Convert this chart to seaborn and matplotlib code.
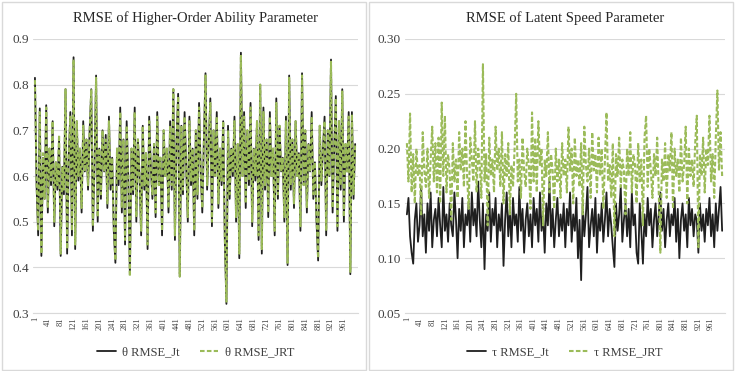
import numpy as np
import pandas as pd
import matplotlib
matplotlib.use("Agg")
import matplotlib.pyplot as plt
from matplotlib.patches import Rectangle
import seaborn as sns

# RMSE per replication (read every 5th replication off the figure)
theta_jt = [
    0.815, 0.58, 0.47, 0.748, 0.425, 0.64, 0.55, 0.755, 0.52, 0.66, 0.58, 0.72, 0.49, 0.63, 0.57, 0.68, 0.425, 0.62, 0.56, 0.79,
    0.43, 0.64, 0.74, 0.47, 0.86, 0.44, 0.72, 0.59, 0.66, 0.52, 0.72, 0.61, 0.68, 0.57, 0.70, 0.79, 0.48, 0.62, 0.82, 0.50,
    0.66, 0.55, 0.70, 0.61, 0.69, 0.53, 0.73, 0.57, 0.64, 0.48, 0.41, 0.66, 0.58, 0.75, 0.52, 0.68, 0.45, 0.72, 0.60, 0.385,
    0.66, 0.56, 0.75, 0.50, 0.68, 0.60, 0.47, 0.71, 0.57, 0.65, 0.44, 0.73, 0.62, 0.55, 0.67, 0.51, 0.74, 0.58, 0.64, 0.47,
    0.70, 0.60, 0.66, 0.52, 0.72, 0.57, 0.79, 0.46, 0.68, 0.78, 0.38, 0.71, 0.56, 0.74, 0.62, 0.50, 0.73, 0.58, 0.66, 0.47,
    0.70, 0.55, 0.76, 0.61, 0.52, 0.68, 0.825, 0.57, 0.67, 0.77, 0.49, 0.70, 0.60, 0.74, 0.53, 0.66, 0.58, 0.72, 0.46, 0.32,
    0.71, 0.55, 0.66, 0.60, 0.73, 0.50, 0.67, 0.42, 0.87, 0.60, 0.74, 0.53, 0.70, 0.58, 0.76, 0.49, 0.66, 0.59, 0.72, 0.46,
    0.80, 0.43, 0.75, 0.57, 0.68, 0.51, 0.74, 0.60, 0.66, 0.47, 0.77, 0.55, 0.71, 0.61, 0.64, 0.50, 0.73, 0.405, 0.82, 0.57,
    0.68, 0.53, 0.72, 0.60, 0.65, 0.48, 0.825, 0.58, 0.70, 0.52, 0.67, 0.61, 0.74, 0.55, 0.63, 0.50, 0.415, 0.71, 0.58, 0.66,
    0.73, 0.47, 0.70, 0.60, 0.855, 0.52, 0.66, 0.775, 0.48, 0.72, 0.57, 0.79, 0.50, 0.67, 0.61, 0.74, 0.385, 0.74, 0.55, 0.67,
]
theta_jrt = [
    0.81, 0.59, 0.48, 0.74, 0.43, 0.65, 0.55, 0.75, 0.53, 0.66, 0.59, 0.72, 0.50, 0.63, 0.58, 0.69, 0.43, 0.62, 0.57, 0.79,
    0.44, 0.64, 0.73, 0.48, 0.855, 0.45, 0.72, 0.60, 0.66, 0.53, 0.71, 0.61, 0.68, 0.58, 0.70, 0.79, 0.49, 0.62, 0.815, 0.51,
    0.66, 0.56, 0.70, 0.61, 0.68, 0.54, 0.72, 0.58, 0.64, 0.49, 0.415, 0.66, 0.59, 0.74, 0.53, 0.68, 0.46, 0.71, 0.60, 0.38,
    0.66, 0.57, 0.74, 0.51, 0.68, 0.60, 0.48, 0.71, 0.58, 0.65, 0.45, 0.72, 0.62, 0.56, 0.67, 0.52, 0.73, 0.58, 0.64, 0.48,
    0.70, 0.60, 0.66, 0.53, 0.71, 0.58, 0.79, 0.47, 0.68, 0.775, 0.38, 0.71, 0.57, 0.73, 0.62, 0.51, 0.72, 0.59, 0.66, 0.48,
    0.70, 0.56, 0.75, 0.61, 0.53, 0.68, 0.82, 0.58, 0.67, 0.76, 0.50, 0.70, 0.60, 0.73, 0.54, 0.66, 0.59, 0.72, 0.47, 0.325,
    0.70, 0.56, 0.66, 0.61, 0.72, 0.51, 0.67, 0.43, 0.865, 0.60, 0.73, 0.54, 0.70, 0.59, 0.75, 0.50, 0.66, 0.60, 0.72, 0.47,
    0.80, 0.44, 0.74, 0.58, 0.68, 0.52, 0.73, 0.60, 0.66, 0.48, 0.76, 0.56, 0.71, 0.61, 0.64, 0.51, 0.72, 0.41, 0.815, 0.58,
    0.68, 0.54, 0.72, 0.60, 0.65, 0.49, 0.82, 0.58, 0.70, 0.53, 0.67, 0.61, 0.73, 0.56, 0.63, 0.51, 0.42, 0.71, 0.59, 0.66,
    0.72, 0.48, 0.70, 0.60, 0.85, 0.53, 0.66, 0.77, 0.49, 0.72, 0.58, 0.785, 0.51, 0.67, 0.61, 0.73, 0.39, 0.735, 0.56, 0.67,
]
tau_jt = [
    0.14, 0.155, 0.12, 0.105, 0.095, 0.135, 0.15, 0.115, 0.13, 0.165, 0.12, 0.14, 0.105, 0.15, 0.125, 0.16, 0.11, 0.135, 0.145, 0.12,
    0.155, 0.13, 0.11, 0.165, 0.125, 0.14, 0.115, 0.15, 0.13, 0.12, 0.16, 0.135, 0.10, 0.145, 0.125, 0.155, 0.11, 0.14, 0.13, 0.15,
    0.115, 0.16, 0.13, 0.145, 0.12, 0.17, 0.135, 0.11, 0.15, 0.09, 0.14, 0.125, 0.16, 0.115, 0.145, 0.13, 0.155, 0.11, 0.14, 0.125,
    0.15, 0.093, 0.135, 0.16, 0.12, 0.145, 0.11, 0.155, 0.13, 0.14, 0.115, 0.165, 0.125, 0.145, 0.105, 0.135, 0.15, 0.12, 0.14, 0.11,
    0.155, 0.13, 0.145, 0.115, 0.16, 0.125, 0.14, 0.105, 0.15, 0.13, 0.17, 0.12, 0.145, 0.11, 0.135, 0.155, 0.12, 0.14, 0.125, 0.15,
    0.11, 0.145, 0.13, 0.16, 0.115, 0.14, 0.125, 0.155, 0.10, 0.135, 0.08, 0.15, 0.12, 0.14, 0.165, 0.11, 0.13, 0.145, 0.12, 0.155,
    0.105, 0.14, 0.125, 0.15, 0.115, 0.135, 0.16, 0.12, 0.145, 0.13, 0.11, 0.092, 0.15, 0.125, 0.14, 0.165, 0.115, 0.135, 0.15, 0.12,
    0.145, 0.11, 0.16, 0.13, 0.14, 0.105, 0.095, 0.15, 0.125, 0.095, 0.14, 0.12, 0.155, 0.13, 0.145, 0.11, 0.135, 0.15, 0.12, 0.14,
    0.16, 0.125, 0.145, 0.11, 0.135, 0.15, 0.12, 0.14, 0.13, 0.155, 0.115, 0.145, 0.10, 0.135, 0.15, 0.125, 0.14, 0.11, 0.155, 0.13,
    0.145, 0.12, 0.14, 0.135, 0.105, 0.15, 0.125, 0.14, 0.115, 0.145, 0.13, 0.155, 0.12, 0.14, 0.11, 0.15, 0.125, 0.145, 0.165, 0.125,
]
tau_jrt = [
    0.205, 0.17, 0.232, 0.16, 0.195, 0.15, 0.2, 0.175, 0.185, 0.14, 0.215, 0.18, 0.165, 0.2, 0.155, 0.19, 0.22, 0.17, 0.205, 0.16,
    0.21, 0.15, 0.242, 0.175, 0.23, 0.16, 0.195, 0.18, 0.135, 0.205, 0.17, 0.19, 0.155, 0.215, 0.18, 0.2, 0.165, 0.225, 0.175, 0.145,
    0.21, 0.19, 0.17, 0.225, 0.16, 0.2, 0.185, 0.155, 0.277, 0.17, 0.195, 0.13, 0.21, 0.175, 0.19, 0.16, 0.22, 0.18, 0.2, 0.165,
    0.215, 0.15, 0.195, 0.175, 0.205, 0.14, 0.185, 0.165, 0.2, 0.25, 0.17, 0.19, 0.155, 0.21, 0.18, 0.165, 0.2, 0.185, 0.145, 0.233,
    0.17, 0.21, 0.16, 0.225, 0.185, 0.2, 0.13, 0.19, 0.175, 0.215, 0.16, 0.195, 0.18, 0.145, 0.2, 0.17, 0.19, 0.155, 0.205, 0.175,
    0.19, 0.16, 0.22, 0.18, 0.2, 0.15, 0.21, 0.175, 0.19, 0.165, 0.205, 0.14, 0.22, 0.185, 0.17, 0.2, 0.155, 0.215, 0.18, 0.195,
    0.16, 0.21, 0.175, 0.2, 0.145, 0.19, 0.233, 0.17, 0.185, 0.155, 0.205, 0.12, 0.195, 0.175, 0.21, 0.165, 0.19, 0.18, 0.14, 0.2,
    0.175, 0.215, 0.16, 0.195, 0.185, 0.15, 0.205, 0.17, 0.19, 0.13, 0.21, 0.23, 0.165, 0.2, 0.18, 0.155, 0.195, 0.175, 0.21, 0.16,
    0.105, 0.19, 0.17, 0.205, 0.155, 0.195, 0.18, 0.215, 0.145, 0.2, 0.175, 0.19, 0.16, 0.21, 0.17, 0.185, 0.22, 0.15, 0.2, 0.175,
    0.19, 0.165, 0.205, 0.23, 0.11, 0.195, 0.175, 0.21, 0.16, 0.2, 0.185, 0.23, 0.17, 0.195, 0.155, 0.21, 0.253, 0.18, 0.215, 0.175,
]

# replication numbers and x tick labels
replication = np.arange(len(theta_jt)) * 5 + 1
x_ticks = list(range(1, 1000, 40))

theta_yticks = [0.3, 0.4, 0.5, 0.6, 0.7, 0.8, 0.9]
tau_yticks = [0.05, 0.10, 0.15, 0.20, 0.25, 0.30]

sns.set_style("white")
plt.rcParams['font.family'] = ['Liberation Serif', 'DejaVu Serif']

BLACK = '#1F1F1F'
GREEN = '#9BBB59'
GRID = '#D9D9D9'
TEXT = '#404040'

fig = plt.figure(figsize=(7.37, 3.71), dpi=100)

# panel borders
for x0 in [0.003, 0.5]:
    fig.patches.append(Rectangle((x0, 0.004), 0.494, 0.99, transform=fig.transFigure,
                                 fill=False, edgecolor=GRID, linewidth=1))

ax1 = fig.add_axes([0.0448, 0.1563, 0.441, 0.7386])
ax2 = fig.add_axes([0.5495, 0.1563, 0.4342, 0.7386])


def draw(ax, jt, jrt, sym, yticks, fmt, title):
    df = pd.DataFrame({'rep': replication, 'jt': jt, 'jrt': jrt})
    sns.lineplot(data=df, x='rep', y='jt', ax=ax, color=BLACK, linewidth=1.3,
                 label=sym + ' RMSE_Jt')
    sns.lineplot(data=df, x='rep', y='jrt', ax=ax, color=GREEN, linewidth=1.5,
                 linestyle=(0, (2.2, 1.1)), label=sym + ' RMSE_JRT')
    ax.set_xlim(-5, 1005)
    ax.set_ylim(yticks[0], yticks[-1])
    ax.set_yticks(yticks)
    ax.set_yticklabels([fmt.format(v) for v in yticks], fontsize=9.5, color=TEXT)
    ax.set_xticks(x_ticks)
    ax.set_xticklabels([str(v) for v in x_ticks], rotation=90, fontsize=6, color=TEXT)
    ax.tick_params(axis='both', length=0, pad=3)
    ax.grid(axis='y', color=GRID, linewidth=0.8)
    ax.set_axisbelow(True)
    for s in ['top', 'right', 'left']:
        ax.spines[s].set_visible(False)
    ax.spines['bottom'].set_color(GRID)
    ax.set_xlabel('')
    ax.set_ylabel('')
    ax.text(0.5, 1.077, title, transform=ax.transAxes, ha='center', va='center',
            fontsize=10.5, color='#262626')
    ax.legend(loc='center', bbox_to_anchor=(0.5, -0.143), ncol=2, frameon=False,
              fontsize=9, handlelength=1.5, handletextpad=0.5, columnspacing=1.6,
              labelcolor=TEXT)


draw(ax1, theta_jt, theta_jrt, 'θ', theta_yticks, '{:.1f}', 'RMSE of Higher-Order Ability Parameter')
draw(ax2, tau_jt, tau_jrt, 'τ', tau_yticks, '{:.2f}', 'RMSE of Latent Speed Parameter')

fig.savefig('out.png', dpi=100)
